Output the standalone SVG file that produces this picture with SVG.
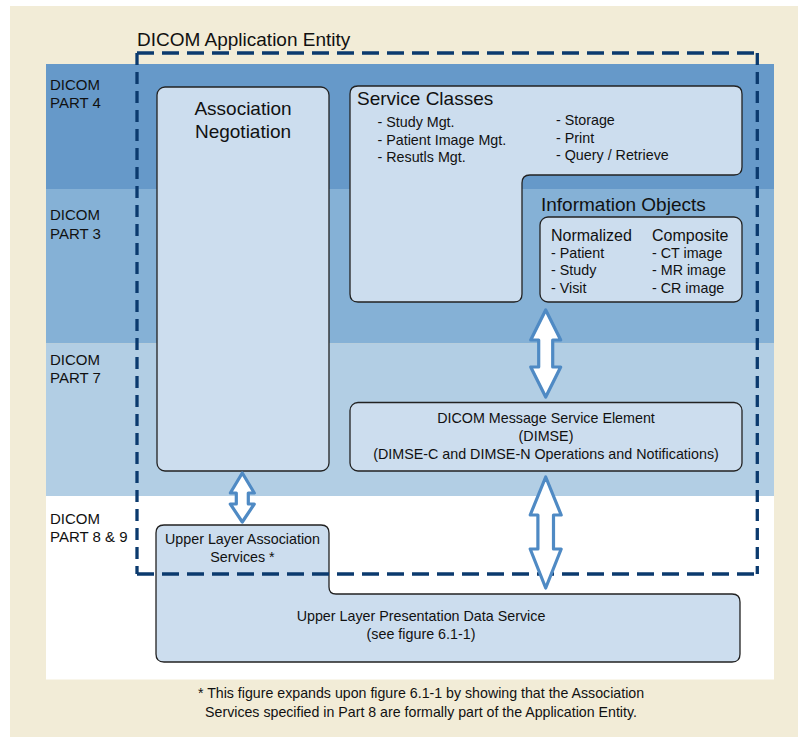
<svg xmlns="http://www.w3.org/2000/svg" width="798" height="737" viewBox="0 0 798 737">
<style>
text{font-family:"Liberation Sans",Arial,sans-serif;fill:#111}
.part{font-size:15px}
.big{font-size:19px}
.med{font-size:16px}
.sm{font-size:14.3px}
.cap{font-size:14.2px}
.box{fill:#CCDDEE;stroke:#222;stroke-width:1.3}
.dash{fill:none;stroke:#0B3A6E;stroke-width:3.3}
.arr{fill:#fff;stroke:#4F8AC4;stroke-width:3.2;stroke-linejoin:round}
</style>
<rect x="10" y="6" width="788" height="731" fill="#F2ECD7"/>
<g id="bands">
<rect x="46" y="64" width="728" height="125" fill="#6699C9"/>
<rect x="46" y="189" width="728" height="154.5" fill="#85B1D6"/>
<rect x="46" y="343.5" width="728" height="152.5" fill="#B2CEE4"/>
<rect x="46" y="496" width="728" height="183.5" fill="#FFFFFF"/>
</g>
<g id="part-labels">
<text class="part" x="50" y="89.5">DICOM</text><text class="part" x="50" y="107.5">PART 4</text>
<text class="part" x="50" y="220">DICOM</text><text class="part" x="50" y="239">PART 3</text>
<text class="part" x="50" y="364.5">DICOM</text><text class="part" x="50" y="383">PART 7</text>
<text class="part" x="50" y="523.5">DICOM</text><text class="part" x="50" y="542">PART 8 &amp; 9</text>
</g>
<g id="association-negotiation">
<rect class="box" x="157" y="87" width="172" height="384" rx="8"/>
<text class="big" x="243" y="114.5" text-anchor="middle">Association</text>
<text class="big" x="243" y="138" text-anchor="middle">Negotiation</text>
</g>
<g id="service-classes">
<path class="box" d="M358 86H734Q742 86 742 94V167Q742 175 734 175H530Q522 175 522 183V294Q522 302 514 302H358Q350 302 350 294V94Q350 86 358 86Z"/>
<text class="big" x="357" y="105">Service Classes</text>
<text class="sm" x="377.5" y="127">- Study Mgt.</text>
<text class="sm" x="377.5" y="144.5">- Patient Image Mgt.</text>
<text class="sm" x="377.5" y="162">- Resutls Mgt.</text>
<text class="sm" x="556" y="125">- Storage</text>
<text class="sm" x="556" y="142.5">- Print</text>
<text class="sm" x="556" y="160">- Query / Retrieve</text>
</g>
<g id="information-objects">
<text class="big" x="541" y="211">Information Objects</text>
<rect class="box" x="540" y="217" width="202" height="85" rx="8"/>
<text class="med" x="551" y="241">Normalized</text>
<text class="sm" x="551" y="258">- Patient</text>
<text class="sm" x="551" y="275">- Study</text>
<text class="sm" x="551" y="292.5">- Visit</text>
<text class="med" x="652" y="241">Composite</text>
<text class="sm" x="652" y="258">- CT image</text>
<text class="sm" x="652" y="275">- MR image</text>
<text class="sm" x="652" y="292.5">- CR image</text>
</g>
<g id="dimse">
<rect class="box" x="350" y="402.5" width="392" height="68.5" rx="8"/>
<text class="sm" x="546" y="422.5" text-anchor="middle">DICOM Message Service Element</text>
<text class="sm" x="546" y="440.5" text-anchor="middle">(DIMSE)</text>
<text class="sm" x="546" y="458.5" text-anchor="middle">(DIMSE-C and DIMSE-N Operations and Notifications)</text>
</g>
<g id="upper-layer">
<path class="box" d="M164 525H321Q329 525 329 533V587Q329 594 336 594H732Q740 594 740 602V654Q740 662 732 662H164Q156 662 156 654V533Q156 525 164 525Z"/>
<text class="sm" x="242.5" y="544" text-anchor="middle">Upper Layer Association</text>
<text class="sm" x="242.5" y="562" text-anchor="middle">Services *</text>
<text class="sm" x="421" y="621" text-anchor="middle">Upper Layer Presentation Data Service</text>
<text class="sm" x="421" y="638.5" text-anchor="middle">(see figure 6.1-1)</text>
</g>
<g id="application-entity">
<text class="big" x="137" y="46">DICOM Application Entity</text>
<path class="dash" d="M137 53H757.3M137 574H757.3" stroke-dasharray="17 8"/>
<path class="dash" d="M137 53V574M757.3 53V574" stroke-dasharray="12 7"/>
</g>
<g id="connectors">
<polygon class="arr" points="545.7,310 560.7,340 552.7,340 552.7,367 560.7,367 545.7,397 530.7,367 538.7,367 538.7,340 530.7,340"/>
<polygon class="arr" points="545.7,477 561.2,515 553.5,515 553.5,549 561.2,549 545.7,588 530.2,549 537.9,549 537.9,515 530.2,515"/>
<polygon class="arr" points="242.3,473 254.3,493 248.3,493 248.3,504 254.3,504 242.3,522 230.3,504 236.3,504 236.3,493 230.3,493"/>
</g>
<g id="caption">
<text class="cap" x="421" y="698" text-anchor="middle">* This figure expands upon figure 6.1-1 by showing that the Association</text>
<text class="cap" x="421" y="716.5" text-anchor="middle">Services specified in Part 8 are formally part of the Application Entity.</text>
</g>
</svg>
